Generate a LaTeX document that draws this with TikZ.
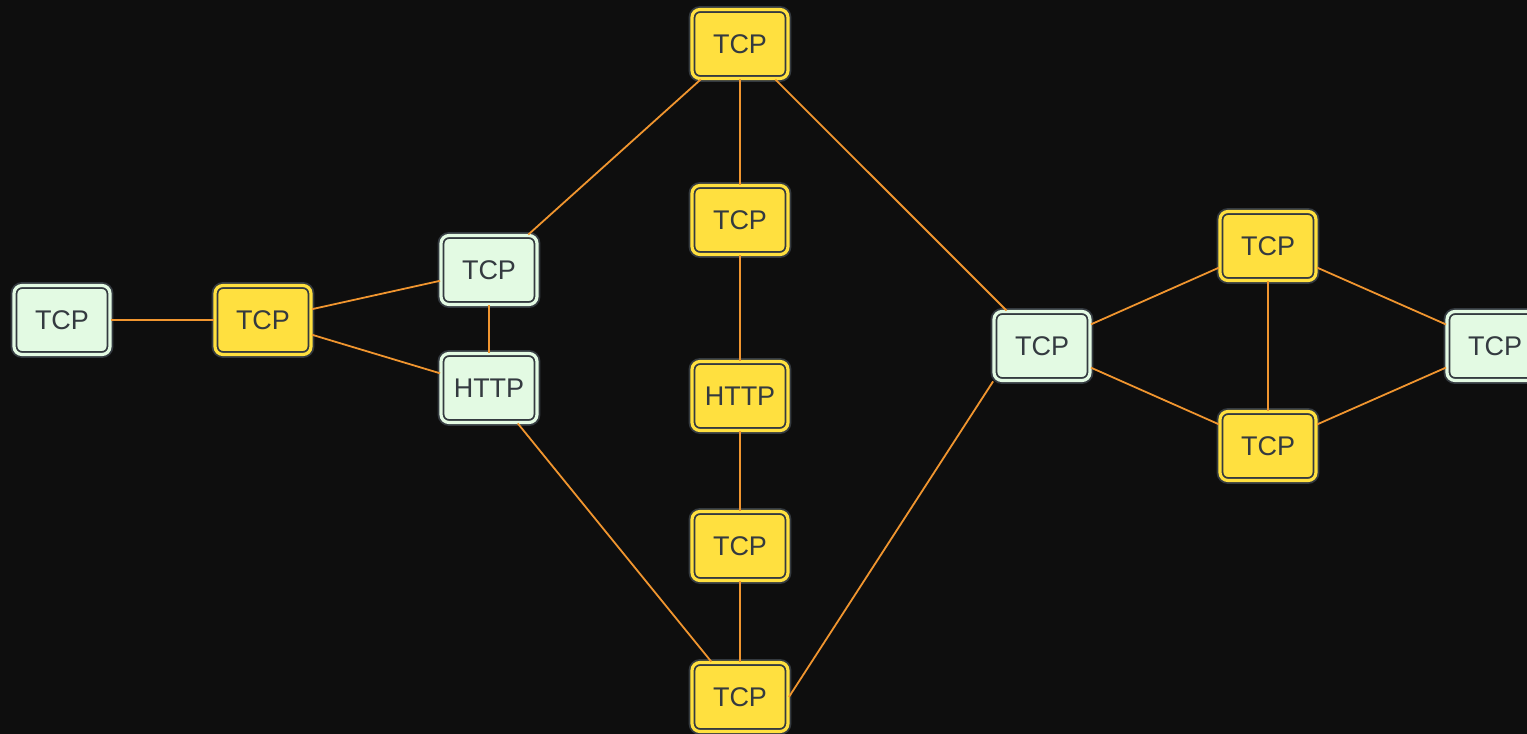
\documentclass[tikz,border=0pt]{standalone}
\usepackage{fontspec}
\setmainfont{Liberation Sans}
\definecolor{fond}{HTML}{0E0E0E}
\definecolor{jaune}{HTML}{FFE03F}
\definecolor{vert}{HTML}{E3FAE3}
\definecolor{bord}{HTML}{343A40}
\definecolor{orange}{HTML}{F0952F}

\begin{document}
\begin{tikzpicture}[x=0.5pt,y=-0.5pt]
\tikzstyle{lien}=[draw=orange,line width=0.9pt]
\tikzset{poste/.style={draw=bord,line width=0.9pt,double=#1,double distance=1.6pt,
fill=#1,rounded corners=4pt,minimum width=48pt,minimum height=34.5pt,
inner sep=0pt,text=bord,font=\fontsize{13.5}{14}\selectfont},
poste/.default={vert}}
\fill[fond] (0,0) rectangle (1527,734);
\useasboundingbox (0,0) rectangle (1527,734);

\node[poste] (A) at (62,320) {TCP};
\node[poste=jaune] (B) at (263,320) {TCP};
\node[poste] (C) at (489,270) {TCP};
\node[poste] (D) at (489,388) {HTTP};
\node[poste=jaune] (E) at (740,44) {TCP};
\node[poste=jaune] (F) at (740,220) {TCP};
\node[poste=jaune] (G) at (740,396) {HTTP};
\node[poste=jaune] (H) at (740,546) {TCP};
\node[poste=jaune] (I) at (740,697) {TCP};
\node[poste] (J) at (1042,346) {TCP};
\node[poste=jaune] (K) at (1268,246) {TCP};
\node[poste=jaune] (L) at (1268,446) {TCP};
\node[poste] (M) at (1495,346) {TCP};

\draw[lien] (A) -- (B);
\draw[lien] (B) -- (C);
\draw[lien] (B) -- (D);
\draw[lien] (C) -- (D);
\draw[lien] (C) -- (E);
\draw[lien] (D) -- (I);
\draw[lien] (E) -- (F);
\draw[lien] (F) -- (G);
\draw[lien] (G) -- (H);
\draw[lien] (H) -- (I);
\draw[lien] (E) -- (J);
\draw[lien] (I.east) -- (J.south west);
\draw[lien] (J) -- (K);
\draw[lien] (J) -- (L);
\draw[lien] (K) -- (L);
\draw[lien] (K) -- (M);
\draw[lien] (L) -- (M);

\end{tikzpicture}
\end{document}
